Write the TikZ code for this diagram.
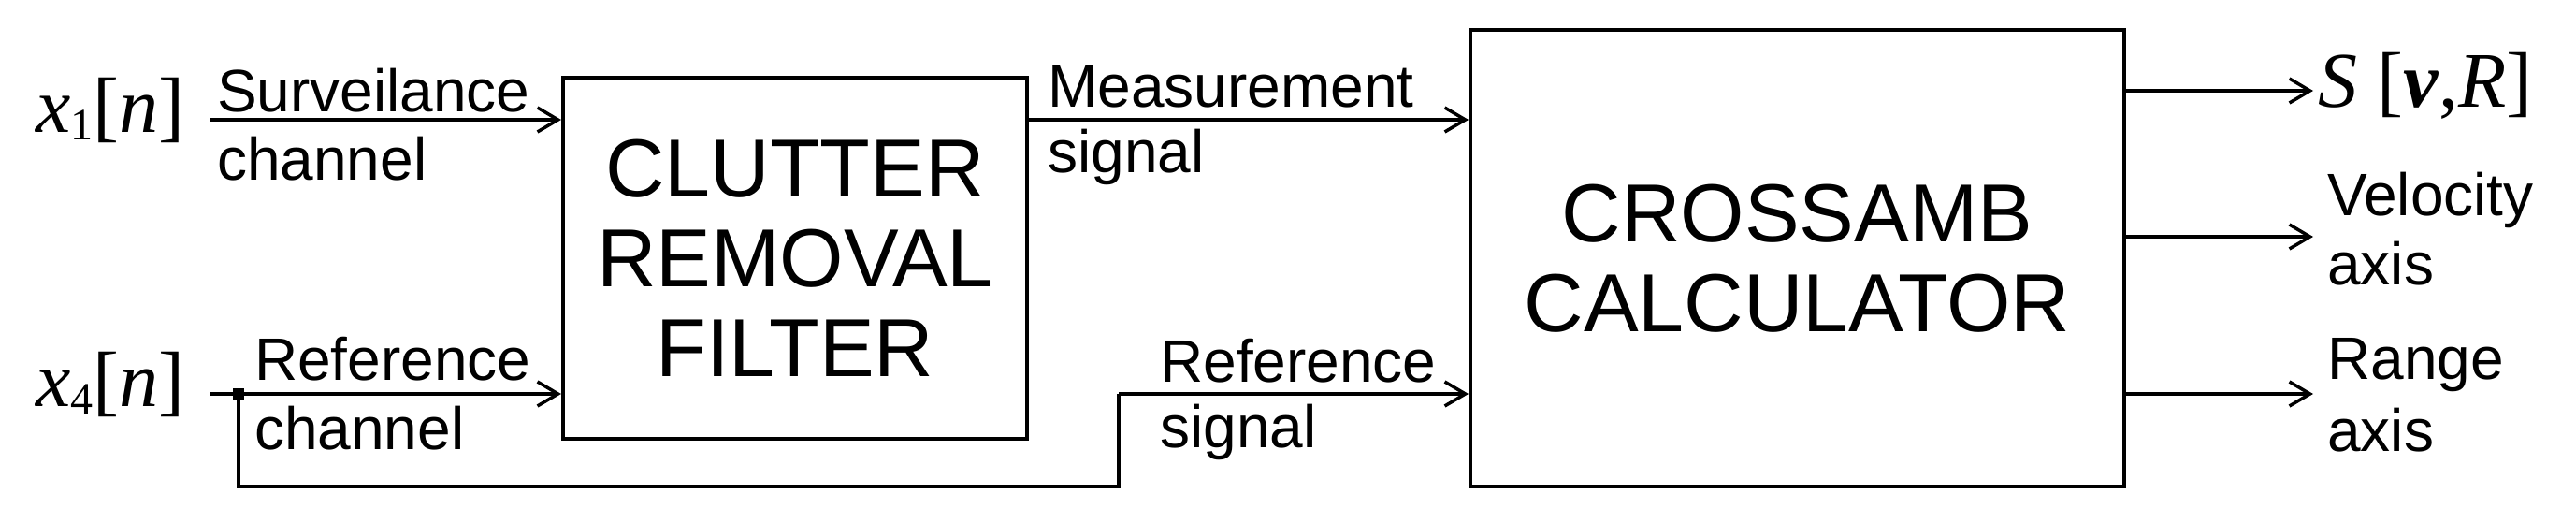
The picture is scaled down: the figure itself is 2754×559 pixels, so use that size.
\documentclass[tikz,border=0pt]{standalone}
\usepackage{fontspec}
\setmainfont{Liberation Sans}
\newfontfamily\mathser{Liberation Serif}
\usetikzlibrary{arrows.meta}
\begin{document}
\begin{tikzpicture}[x=1pt,y=-1pt,
  lbl/.style={font=\fontsize{64}{70}\selectfont,anchor=west,inner sep=0},
  box/.style={draw,line width=4pt,align=center,font=\fontsize{88}{96}\selectfont},
  sig/.style={font=\mathser\fontsize{84}{94}\selectfont,inner sep=0},
  arr/.style={line width=3.5pt,-{Straight Barb[length=22pt,width=26pt,line width=3.5pt]}},
  ln/.style={line width=3.5pt}]
\useasboundingbox (0,0) rectangle (2754,559);
\node[box,minimum width=496pt,minimum height=386pt] (crf) at (850,276) {CLUTTER\\REMOVAL\\FILTER};
\node[box,minimum width=699pt,minimum height=488pt] (ca) at (1921.5,276) {CROSSAMB\\CALCULATOR};
\node[sig] (x1) at (118,118) {\textit{x}\raisebox{-8pt}{\fontsize{48}{50}\selectfont 1}[\textit{n}]};
\node[sig] (x4) at (118,411) {\textit{x}\raisebox{-8pt}{\fontsize{48}{50}\selectfont 4}[\textit{n}]};
\coordinate (s1) at (225,128);
\coordinate (r1) at (225,421);
\coordinate (j) at (255,421);
\coordinate (jb) at (255,520);
\coordinate (k) at (1196,520);
\coordinate (kt) at (1196,421);
\draw[arr] (s1) -- (s1 -| crf.west);
\draw[arr] (r1) -- (r1 -| crf.west);
\draw[arr] (crf.east |- s1) -- (ca.west |- s1);
\draw[ln] (j) -- (jb) -- (k) -- (kt);
\draw[arr] (kt) -- (ca.west |- kt);
\fill ([shift={(-6pt,-6pt)}]j) rectangle ([shift={(6pt,6pt)}]j);
\coordinate (o1) at (2473,97);
\coordinate (o2) at (2473,253);
\coordinate (o3) at (2473,421);
\draw[arr] (ca.east |- o1) -- (o1);
\draw[arr] (ca.east |- o2) -- (o2);
\draw[arr] (ca.east |- o3) -- (o3);
\node[sig,anchor=west] (S) at (2478,92) {\textit{S} [\textbf{\textit{v}},\textit{R}]};
\node[lbl] (t1) at (232,97) {Surveilance};
\node[lbl] (t2) at (232,170) {channel};
\node[lbl] (t3) at (272,384) {Reference};
\node[lbl] (t4) at (272,458) {channel};
\node[lbl] (t5) at (1120,93) {Measurement};
\node[lbl] (t6) at (1120,168) {signal};
\node[lbl] (t7) at (1240,386) {Reference};
\node[lbl] (t8) at (1240,462) {signal};
\node[lbl] (t9) at (2488,214) {Velocity};
\node[lbl] (t10) at (2488,282) {axis};
\node[lbl] (t11) at (2488,390) {Range};
\node[lbl] (t12) at (2488,460) {axis};
\end{tikzpicture}
\end{document}
